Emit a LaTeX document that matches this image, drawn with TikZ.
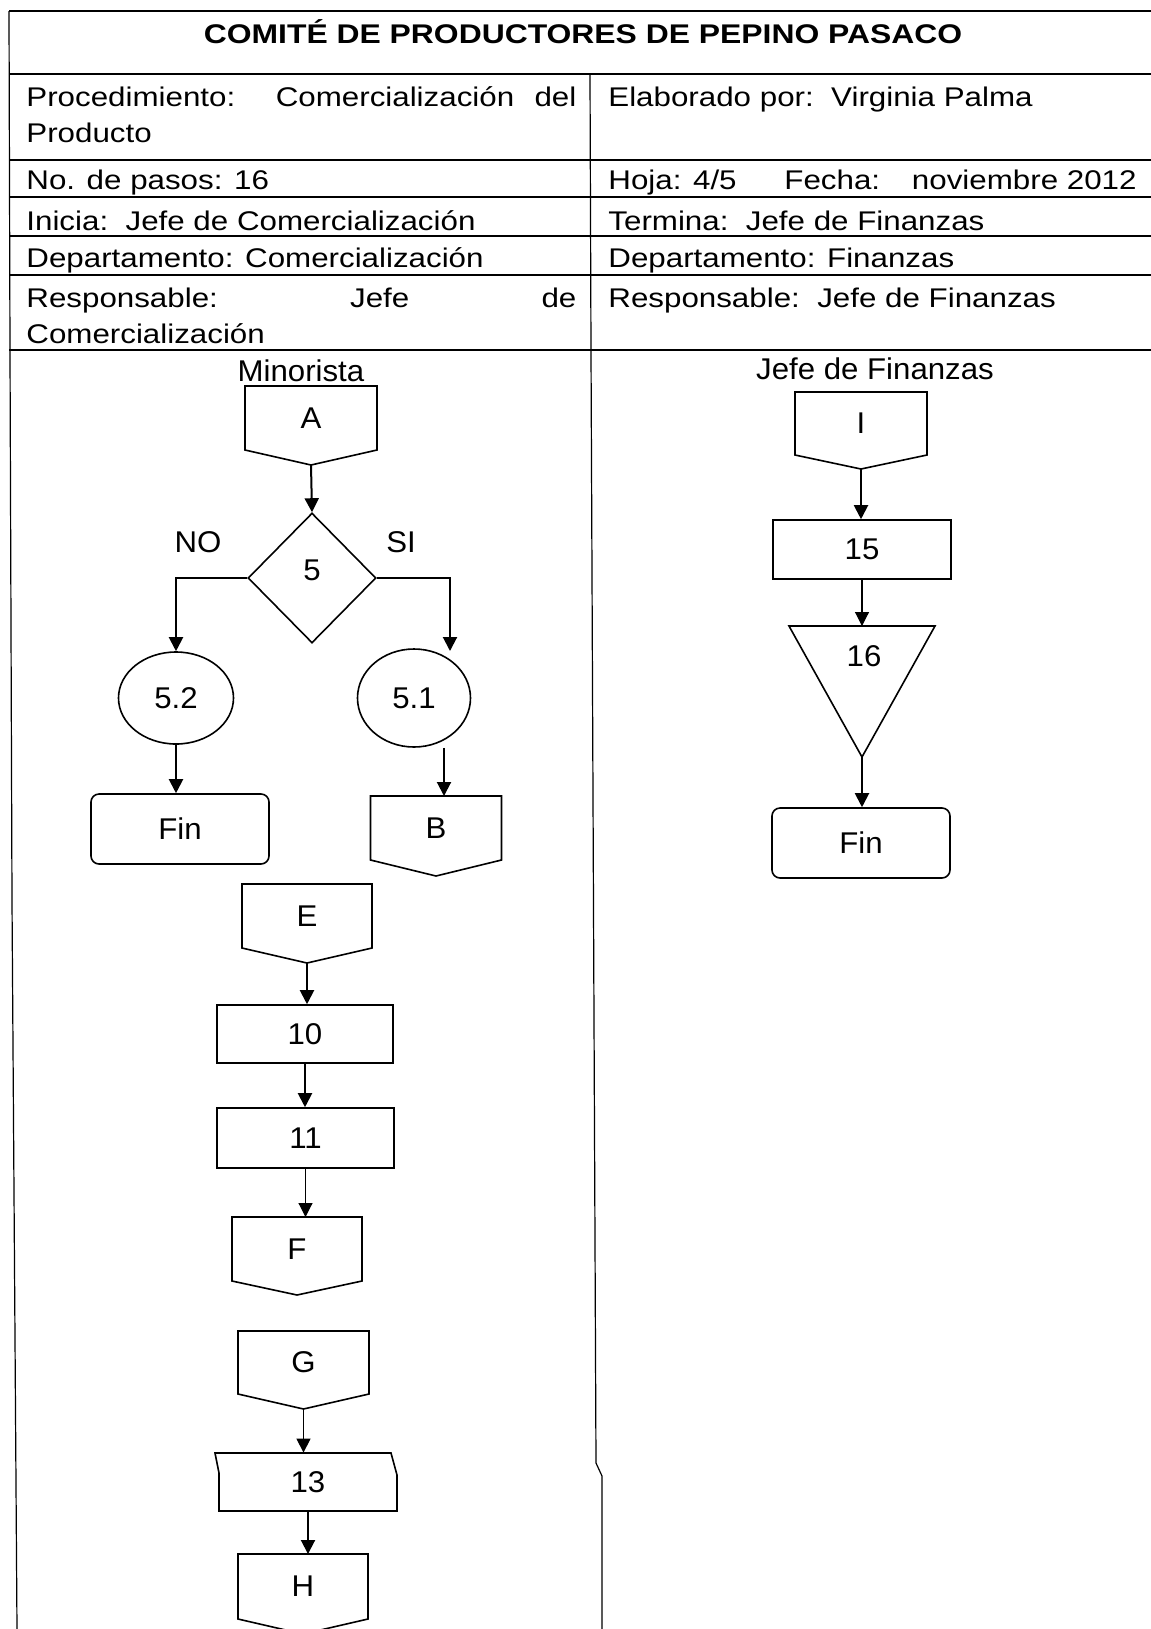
\documentclass[tikz,border=0pt]{standalone}
\usepackage{fontspec}
\setmainfont{Liberation Sans}
\newfontfamily\tabfont{Liberation Sans}[FakeStretch=1.16]
\newfontfamily\titlefont{Liberation Sans}[FakeStretch=1.18]
\newfontfamily\chartfont{Liberation Sans}[FakeStretch=1.04]
\usetikzlibrary{arrows.meta,shapes.geometric}

\tikzset{
  rule/.style={line width=0.6pt},
  tab/.style={font=\tabfont\fontsize{13.5}{16}\selectfont, inner sep=0pt, anchor=base west},
  chart/.style={font=\chartfont\fontsize{15}{18}\selectfont, inner sep=0pt},
  outline/.style={draw, line width=0.8pt, line join=miter},
  procbox/.style={outline, rectangle, inner sep=0pt, font=\chartfont\fontsize{15}{18}\selectfont},
  endbox/.style={outline, rectangle, rounded corners=4pt, inner sep=0pt, font=\chartfont\fontsize{15}{18}\selectfont},
  arr/.style={line width=1pt, -{Triangle[length=7pt,width=7pt]}},
  thinarr/.style={line width=0.55pt, -{Triangle[length=7pt,width=7pt]}},
}

% off-page connector: name, centre x, top, half width, side bottom, tip y, label
\newcommand\offpage[7]{%
  \draw[outline] (#2-#4,#3) -- (#2+#4,#3) -- (#2+#4,#5) -- (#2,#6) -- (#2-#4,#5) -- cycle;
  \coordinate (#1-top) at (#2,#3);
  \coordinate (#1-tip) at (#2,#6);
  \node[chart] (#1) at (#2,{(#3+#5)/2}) {#7};
}

\begin{document}
\begin{tikzpicture}[x=0.5pt,y=-0.5pt]
\useasboundingbox (0,0) rectangle (1151,1629);
\fill[white] (0,0) rectangle (1151,1629);

% ---- header table ----
\foreach \yy in {11,74,160,197,236,275,350}
  \draw[rule] (9,\yy) -- (1151,\yy);
\draw[rule] (9,11) -- (10,351) -- (12,900) -- (17,1629);
\draw[rule] (590,74) -- (591,351) -- (596,1463) -- (602,1476) -- (602,1629);

\node[font=\titlefont\bfseries\fontsize{13.5}{16}\selectfont, inner sep=0pt, anchor=base] (title) at (583,43)
  {COMITÉ DE PRODUCTORES DE PEPINO PASACO};

\node[tab] (proc1) at (26,106) {\makebox[275pt][s]{Procedimiento:\ \ Comercialización del}};
\node[tab] (proc2) at (26,142) {Producto};
\node[tab] (elab) at (608,106) {Elaborado por:\ \ Virginia Palma};
\node[tab] (pasos) at (26,189) {No. de pasos: 16};
\node[tab] (hoja) at (608,189) {Hoja: 4/5};
\node[tab] (fecha) at (784,189) {Fecha:};
\node[tab, anchor=base east] (fechav) at (1137,189) {noviembre 2012};
\node[tab] (inicia) at (26,230) {Inicia:\ \ Jefe de Comercialización};
\node[tab] (termina) at (608,230) {Termina:\ \ Jefe de Finanzas};
\node[tab] (dep1) at (26,267) {Departamento: Comercialización};
\node[tab] (dep2) at (608,267) {Departamento: Finanzas};
\node[tab] (resp1) at (26,307) {\makebox[275pt][s]{Responsable:\ Jefe\ de}};
\node[tab] (resp1b) at (26,343) {Comercialización};
\node[tab] (resp2) at (608,307) {Responsable:\ \ Jefe de Finanzas};

% ---- lane headings ----
\node[chart, anchor=base] (minorista) at (301,381) {Minorista};
\node[chart, anchor=base] (jefefin) at (875,379) {Jefe de Finanzas};

% ---- Minorista lane ----
\offpage{A}{311}{386}{66}{450}{465}{A}
\node[outline, diamond, minimum width=64pt, minimum height=65pt, inner sep=0pt] (d5) at (312,578) {};
\node[chart] (d5t) at (312,570) {5};
\node[chart] (no) at (198,542) {NO};
\node[chart] (si) at (401,542) {SI};

\node[outline, ellipse, minimum width=57.5pt, minimum height=46pt, inner sep=0pt,
      font=\chartfont\fontsize{15}{18}\selectfont] (e52) at (176,698) {5.2};
\node[outline, ellipse, minimum width=56.5pt, minimum height=49pt, inner sep=0pt,
      font=\chartfont\fontsize{15}{18}\selectfont] (e51) at (414,698) {5.1};

\node[endbox, minimum width=89pt, minimum height=35pt] (fin1) at (180,829) {Fin};
\offpage{B}{436}{796}{65.5}{860}{876}{B}

\offpage{E}{307}{884}{65}{948}{963}{E}
\node[procbox, minimum width=88pt, minimum height=29pt] (p10) at (305,1034) {10};
\node[procbox, minimum width=88.5pt, minimum height=30pt] (p11) at (305.5,1138) {11};
\offpage{F}{297}{1217}{65}{1281}{1295}{F}

\offpage{G}{303.5}{1331}{65.5}{1394}{1409}{G}
\node[chart, minimum width=89pt, minimum height=29pt] (p13) at (308,1482) {13};
\draw[outline] (215,1453) -- (391,1453) -- (397,1475) -- (397,1511) -- (219,1511) -- (219,1473) -- cycle;
\offpage{H}{303}{1554}{65}{1619}{1634}{H}

\coordinate (si-end) at (450,651);
\draw[arr] (A-tip) -- (d5.north);
\draw[arr] (d5.west) -| (e52.north);
\draw[arr] (d5.east) -| (si-end);
\draw[arr] (e52.south) -- (e52.south |- fin1.north);
\draw[arr] ([xshift=15pt]e51.south) -- ([xshift=15pt]e51.south |- B-top);
\draw[arr] (E-tip) -- (E-tip |- p10.north);
\draw[arr] (p10.south) -- (p10.south |- p11.north);
\draw[thinarr] (p11.south) -- (p11.south |- F-top);
\draw[thinarr] (G-tip) -- (G-tip |- p13.north);
\draw[arr] (p13.south) -- (p13.south |- H-top);

% ---- Jefe de Finanzas lane ----
\offpage{I}{861}{392}{66}{455}{469}{I}
\node[procbox, minimum width=89pt, minimum height=29.5pt] (p15) at (862,549.5) {15};
\draw[outline] (789,626) -- (935,626) -- (862,757) -- cycle;
\coordinate (t16-top) at (862,626);
\coordinate (t16-tip) at (862,757);
\node[chart] (t16) at (864,656) {16};
\node[endbox, minimum width=89pt, minimum height=35pt] (fin2) at (861,843) {Fin};

\draw[arr] (I-tip) -- (I-tip |- p15.north);
\draw[thinarr] (p15.south) -- (p15.south |- t16-top);
\draw[arr] (t16-tip) -- (t16-tip |- fin2.north);
\end{tikzpicture}
\end{document}
